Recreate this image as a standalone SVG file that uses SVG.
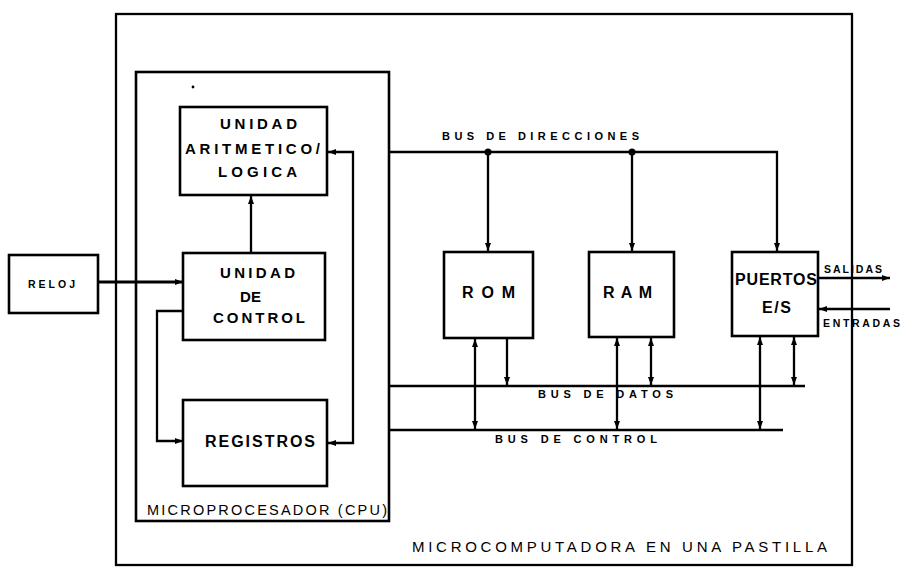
<svg xmlns="http://www.w3.org/2000/svg" width="901" height="571" viewBox="0 0 901 571">
<defs>
<style>
.box{fill:none;stroke:#000;stroke-width:2.6}
.frame{fill:none;stroke:#000;stroke-width:2.3}
.ln{fill:none;stroke:#000;stroke-width:2.3}
.b{font-family:"Liberation Sans",Arial,sans-serif;font-weight:bold;fill:#000}
.r{font-family:"Liberation Sans",Arial,sans-serif;fill:#000}
</style>
<marker id="ah" viewBox="0 0 8 6" refX="8" refY="3" markerWidth="8" markerHeight="6" markerUnits="userSpaceOnUse" orient="auto-start-reverse">
<path d="M0,0 L8,3 L0,6 z" fill="#000"/>
</marker>
</defs>
<rect width="901" height="571" fill="#fff"/>

<g id="microcomputadora">
<rect class="frame" x="116" y="14" width="736" height="551"/>
<text class="r" x="412" y="552" font-size="15" textLength="415" lengthAdjust="spacing">MICROCOMPUTADORA EN  UNA  PASTILLA</text>
</g>

<g id="cpu">
<rect class="box" x="136" y="72" width="253" height="449"/>
<circle cx="193" cy="87" r="1.4" fill="#000"/>
<text class="r" x="147" y="515" font-size="14.5" textLength="240" lengthAdjust="spacing">MICROPROCESADOR (CPU)</text>
</g>

<g id="alu">
<rect class="box" x="180" y="107" width="147" height="88"/>
<text class="b" x="220" y="129" font-size="15" textLength="77" lengthAdjust="spacing">UNIDAD</text>
<text class="b" x="185" y="154" font-size="15" textLength="135" lengthAdjust="spacing">ARITMETICO/</text>
<text class="b" x="218" y="177" font-size="15" textLength="79" lengthAdjust="spacing">LOGICA</text>
</g>

<g id="control">
<rect class="box" x="183" y="253" width="142" height="87"/>
<text class="b" x="220" y="278" font-size="15" textLength="75" lengthAdjust="spacing">UNIDAD</text>
<text class="b" x="240" y="302" font-size="15" textLength="21" lengthAdjust="spacing">DE</text>
<text class="b" x="213" y="323" font-size="15" textLength="92" lengthAdjust="spacing">CONTROL</text>
</g>

<g id="registros">
<rect class="box" x="183" y="400" width="144" height="86"/>
<text class="b" x="205" y="447" font-size="16" textLength="110" lengthAdjust="spacing">REGISTROS</text>
</g>

<g id="reloj">
<rect class="box" x="9" y="255" width="89" height="58"/>
<text class="b" x="28" y="288" font-size="10.5" textLength="47" lengthAdjust="spacing">RELOJ</text>
</g>

<g id="rom">
<rect class="box" x="444" y="252" width="89" height="86"/>
<text class="b" x="462" y="298" font-size="16" textLength="53" lengthAdjust="spacing">ROM</text>
</g>

<g id="ram">
<rect class="box" x="589" y="252" width="85" height="85"/>
<text class="b" x="603" y="298" font-size="16" textLength="49" lengthAdjust="spacing">RAM</text>
</g>

<g id="puertos">
<rect class="box" x="732" y="252" width="86" height="84"/>
<text class="b" x="735" y="285" font-size="16" textLength="82" lengthAdjust="spacing">PUERTOS</text>
<text class="b" x="762" y="313" font-size="16" textLength="29" lengthAdjust="spacing">E/S</text>
</g>

<g id="connectors">
<line x1="98" y1="282" x2="183" y2="282" stroke="#000" stroke-width="3" marker-end="url(#ah)"/>
<line class="ln" x1="251" y1="253" x2="251" y2="196" marker-end="url(#ah)"/>
<path class="ln" d="M183,311 H157 V441 H183" marker-end="url(#ah)"/>
<path class="ln" d="M328,152 H353 V443 H328" marker-start="url(#ah)" marker-end="url(#ah)"/>

<path class="ln" d="M389,152 H777 V251" marker-end="url(#ah)"/>
<circle cx="488" cy="152" r="3.5" fill="#000"/>
<circle cx="632" cy="152" r="3.5" fill="#000"/>
<line class="ln" x1="488" y1="152" x2="488" y2="251" marker-end="url(#ah)"/>
<line class="ln" x1="632" y1="152" x2="632" y2="251" marker-end="url(#ah)"/>
<text class="b" x="442" y="140" font-size="11" textLength="197" lengthAdjust="spacing">BUS  DE  DIRECCIONES</text>

<line class="ln" x1="389" y1="386" x2="805" y2="386"/>
<line class="ln" x1="389" y1="430" x2="783" y2="430"/>
<text class="b" x="538" y="398" font-size="11" textLength="135" lengthAdjust="spacing">BUS  DE  DATOS</text>
<text class="b" x="495" y="443" font-size="11" textLength="162" lengthAdjust="spacing">BUS  DE  CONTROL</text>

<line class="ln" x1="475" y1="339" x2="475" y2="429" marker-start="url(#ah)" marker-end="url(#ah)"/>
<line class="ln" x1="507" y1="339" x2="507" y2="385" marker-end="url(#ah)"/>
<line class="ln" x1="617" y1="338" x2="617" y2="429" marker-start="url(#ah)" marker-end="url(#ah)"/>
<line class="ln" x1="651" y1="338" x2="651" y2="385" marker-start="url(#ah)" marker-end="url(#ah)"/>
<line class="ln" x1="760" y1="337" x2="760" y2="429" marker-start="url(#ah)" marker-end="url(#ah)"/>
<line class="ln" x1="794" y1="337" x2="794" y2="385" marker-start="url(#ah)" marker-end="url(#ah)"/>

<line class="ln" x1="819" y1="278" x2="890" y2="278" marker-end="url(#ah)"/>
<line class="ln" x1="890" y1="309" x2="819" y2="309" marker-end="url(#ah)"/>
<text class="b" x="824" y="273" font-size="10.5" textLength="58" lengthAdjust="spacing">SALIDAS</text>
<text class="b" x="823" y="327" font-size="10.5" textLength="77" lengthAdjust="spacing">ENTRADAS</text>
</g>
</svg>
